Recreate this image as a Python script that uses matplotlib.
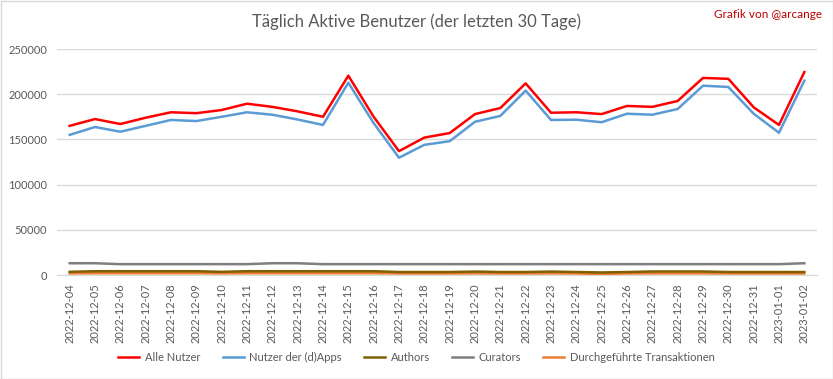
import matplotlib
matplotlib.use("Agg")
import matplotlib.pyplot as plt
from matplotlib.patches import Rectangle

dates = ["2022-12-04", "2022-12-05", "2022-12-06", "2022-12-07", "2022-12-08", "2022-12-09",
         "2022-12-10", "2022-12-11", "2022-12-12", "2022-12-13", "2022-12-14", "2022-12-15",
         "2022-12-16", "2022-12-17", "2022-12-18", "2022-12-19", "2022-12-20", "2022-12-21",
         "2022-12-22", "2022-12-23", "2022-12-24", "2022-12-25", "2022-12-26", "2022-12-27",
         "2022-12-28", "2022-12-29", "2022-12-30", "2022-12-31", "2023-01-01", "2023-01-02"]

alle_nutzer = [165000, 172500, 167000, 174000, 180000, 179000, 182500, 189500, 186000, 181000,
               175000, 220500, 175000, 137000, 152000, 157000, 178000, 184700, 212000, 179500,
               180000, 178000, 187000, 186000, 192500, 218000, 217000, 185500, 166000, 224500]

dapps_nutzer = [155000, 163700, 158500, 165000, 171500, 170300, 175000, 180000, 177300, 172000,
                166000, 212700, 168000, 129700, 144000, 148000, 169500, 176000, 204000, 171500,
                171800, 169000, 178400, 177300, 183600, 209400, 208000, 178400, 157400, 215000]

authors = [3500, 4200, 4200, 4200, 4200, 4200, 3500, 4200, 4200, 4200,
           4200, 4200, 4200, 3300, 3300, 3300, 3800, 3300, 3300, 3800,
           3300, 2800, 3300, 3900, 3900, 3900, 3300, 3300, 3300, 3300]

curators = [13000, 13000, 12000, 12000, 12000, 12000, 12000, 12000, 13000, 13000,
            12000, 12000, 12000, 12000, 12000, 12000, 12000, 12000, 12000, 12000,
            12000, 12000, 12000, 12000, 12000, 12000, 12000, 12000, 12000, 13000]

transaktionen = [1800, 2000, 2000, 2000, 2000, 2000, 1800, 2000, 2000, 2000,
                 2000, 2000, 2000, 1700, 1700, 1700, 1800, 1700, 1700, 1800,
                 1700, 1200, 1700, 1800, 1800, 1800, 1700, 1700, 1700, 1700]

series_names = ["Alle Nutzer", "Nutzer der (d)Apps", "Authors", "Curators", "Durchgeführte Transaktionen"]
colors = ["#FF0000", "#5B9BD5", "#7F6000", "#7F7F7F", "#ED7D31"]

plt.rcParams['font.family'] = ['Lato', 'DejaVu Sans']

fig = plt.figure(figsize=(8.33, 3.79), dpi=100)
ax = fig.add_axes([57 / 833, 1 - 275 / 379, (817 - 57) / 833, (275 - 49) / 379])

x = list(range(len(dates)))
data = [alle_nutzer, dapps_nutzer, authors, curators, transaktionen]
order = [3, 2, 4, 1, 0]
for i in order:
    ax.plot(x, data[i], color=colors[i], lw=1.8, label=series_names[i],
            solid_joinstyle='round', zorder=3 + (5 - i))

ax.set_xlim(-0.5, len(dates) - 0.5)
ax.set_ylim(0, 250000)
ax.set_yticks([0, 50000, 100000, 150000, 200000, 250000])
ax.set_yticklabels(["0", "50000", "100000", "150000", "200000", "250000"])
ax.set_xticks(x)
ax.set_xticklabels(dates, rotation=90)
ax.tick_params(axis='both', length=0, labelsize=8, labelcolor="#595959")
ax.tick_params(axis='x', pad=6)
ax.tick_params(axis='y', pad=7)
ax.grid(axis='y', color="#D9D9D9", lw=1)
ax.set_axisbelow(True)
for s in ["top", "right", "left"]:
    ax.spines[s].set_visible(False)
ax.spines["bottom"].set_color("#D9D9D9")

handles, labels = ax.get_legend_handles_labels()
hmap = dict(zip(labels, handles))
leg = fig.legend([hmap[n] for n in series_names], series_names, loc="center",
                 bbox_to_anchor=(0.5, 1 - 357 / 379), ncol=5, frameon=False,
                 fontsize=8, handlelength=1.9, columnspacing=2.0, handletextpad=0.5)
for t in leg.get_texts():
    t.set_color("#595959")

fig.text(0.5, 1 - 22 / 379, "Täglich Aktive Benutzer (der letzten 30 Tage)", ha="center", va="center",
         fontsize=12, color="#595959")
fig.text(822 / 833, 1 - 15 / 379, "Grafik von @arcange", ha="right", va="center",
         fontsize=8.5, color="#C00000")

fig.patches.append(Rectangle((0.5 / 833, 0.5 / 379), 1 - 1 / 833, 1 - 1 / 379, transform=fig.transFigure,
                             fill=False, edgecolor="#D9D9D9", lw=1))

fig.savefig("out.png", dpi=100, facecolor="white")
